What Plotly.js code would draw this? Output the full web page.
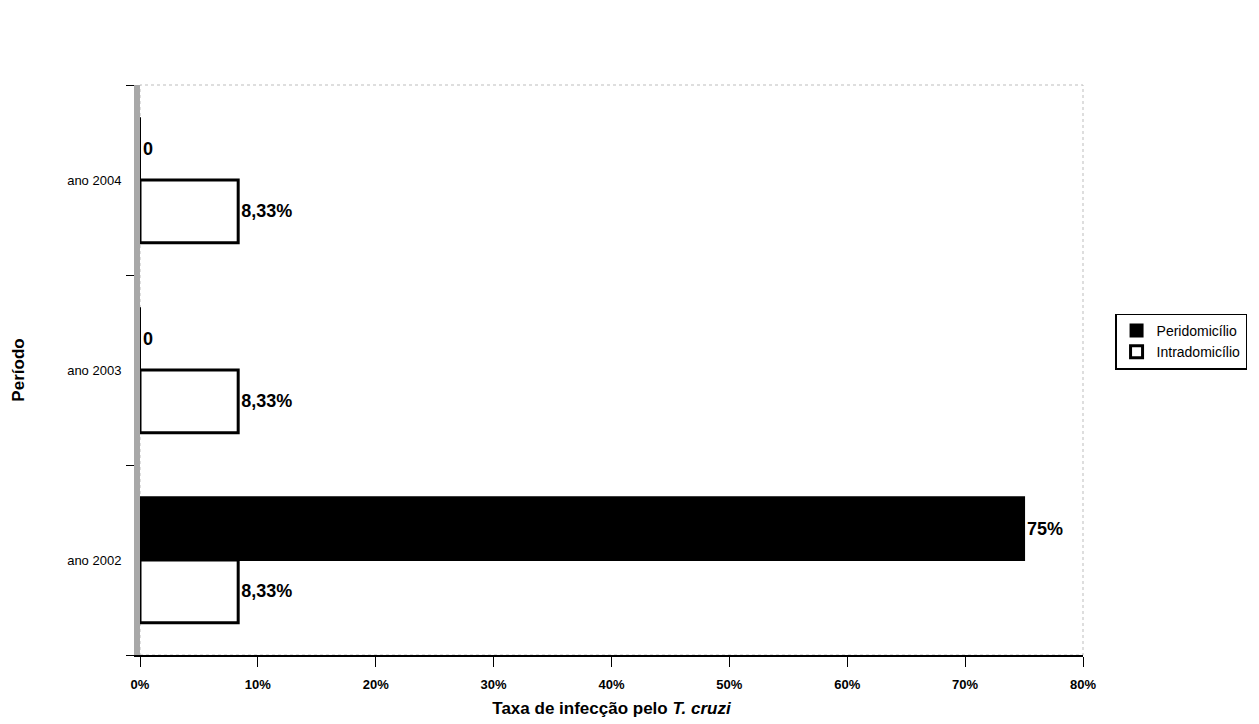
<!DOCTYPE html>
<html>
<head>
<meta charset="utf-8">
<script src="https://cdn.plot.ly/plotly-3.0.1.min.js"></script>
<style>html,body{margin:0;padding:0;background:#fff;}#chart{width:1259px;height:724px;}</style>
</head>
<body>
<div id="chart"></div>
<script>
var categories = ["ano 2002", "ano 2003", "ano 2004"];
var peridomicilio = [0.75, 0, 0];
var peridomicilioLabels = ["75%", "0", "0"];
var intradomicilio = [0.0833, 0.0833, 0.0833];
var intradomicilioLabels = ["8,33%", "8,33%", "8,33%"];
var xTickValues = [0, 0.1, 0.2, 0.3, 0.4, 0.5, 0.6, 0.7, 0.8];
var xTickLabels = ["0%", "10%", "20%", "30%", "40%", "50%", "60%", "70%", "80%"];

var font = "Liberation Sans, Arial, sans-serif";

var traces = [
  {
    type: "bar", orientation: "h", name: "Intradomicílio",
    y: categories, x: intradomicilio,
    text: intradomicilioLabels, textposition: "outside",
    textfont: {family: font, size: 18, color: "#000", weight: "bold"},
    marker: {color: "#ffffff", line: {color: "#000", width: 3}},
    legendrank: 2, cliponaxis: false
  },
  {
    type: "bar", orientation: "h", name: "Peridomicílio",
    y: categories, x: peridomicilio,
    text: peridomicilioLabels, textposition: "outside",
    textfont: {family: font, size: 18, color: "#000", weight: "bold"},
    marker: {color: "#000000", line: {color: "#000", width: 2}},
    legendrank: 1, cliponaxis: false
  }
];

var layout = {
  width: 1259, height: 724,
  paper_bgcolor: "#fff", plot_bgcolor: "#fff",
  font: {family: font, color: "#000", size: 12},
  margin: {l: 140, r: 174, t: 85, b: 69},
  barmode: "group", bargap: 0.34, bargroupgap: 0,
  showlegend: true,
  legend: {
    x: 1.034, xanchor: "left", y: 0.55, yanchor: "middle",
    bordercolor: "#000", borderwidth: 1.5, bgcolor: "#fff",
    font: {family: font, size: 14, color: "#000"},
    traceorder: "normal", itemwidth: 30, tracegroupgap: 2
  },
  xaxis: {
    range: [0, 0.8], tickvals: xTickValues, ticktext: xTickLabels,
    tickfont: {family: font, size: 13, color: "#000", weight: "bold"},
    ticks: "outside", ticklen: 10, tickcolor: "#000",
    ticklabelstandoff: 6,
    showgrid: false, zeroline: false,
    showline: true, linecolor: "#000", linewidth: 2, mirror: false,
    title: {text: "<b>Taxa de infecção pelo <i>T. cruzi</i></b>", font: {family: font, size: 17, color: "#000"}, standoff: 12}
  },
  yaxis: {
    range: [-0.5, 2.5],
    tickfont: {family: font, size: 13, color: "#000"},
    ticks: "outside", tickson: "boundaries", ticklen: 8, tickcolor: "#000",
    ticklabelstandoff: 10,
    showgrid: false, zeroline: false,
    showline: true, linecolor: "#a8a8a8", linewidth: 6,
    title: {text: "<b>Período</b>", font: {family: font, size: 17, color: "#000"}, standoff: 40}
  },
  shapes: [
    {type: "rect", xref: "paper", yref: "paper", x0: 0, x1: 1, y0: 0, y1: 1,
     line: {color: "#bdbdbd", width: 1, dash: "dot"}, layer: "below"}
  ]
};

Plotly.newPlot("chart", traces, layout, {displayModeBar: false, staticPlot: true});
</script>
</body>
</html>
